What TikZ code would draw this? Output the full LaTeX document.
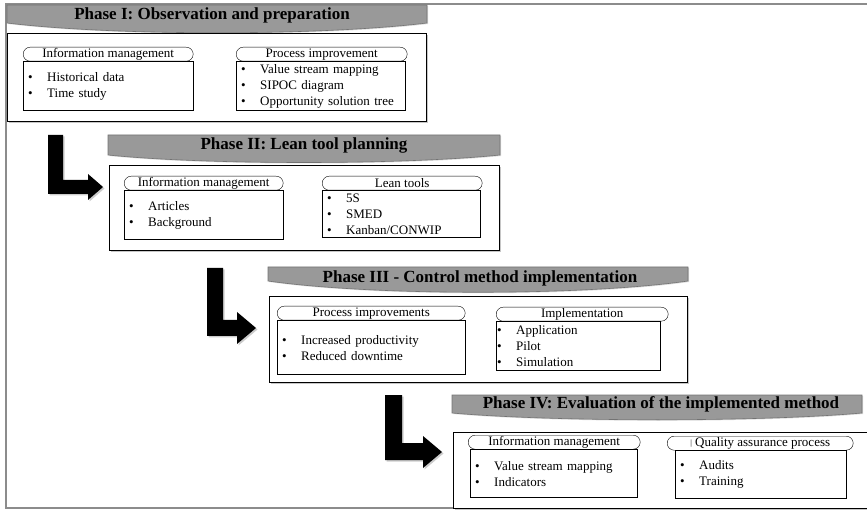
\documentclass[tikz,border=0pt]{standalone}
\usepackage{fontspec}
\setmainfont{Liberation Serif}
\usetikzlibrary{shadows}

\tikzset{
  pill/.style={draw, rounded corners=7pt, minimum height=14pt, inner sep=0pt, anchor=north west, font=\fontsize{13}{15}\selectfont},
  listbox/.style={draw, anchor=north west, inner xsep=5pt, inner ysep=0pt, align=left, font=\fontsize{13}{16}\selectfont},
  phasebox/.style={draw, line width=0.9pt, anchor=north west, inner sep=0pt, fill=white, drop shadow={shadow xshift=1.2pt, shadow yshift=-1.2pt, opacity=0.45}},
  banner/.style={fill=black!40, draw=black!55, line width=0.6pt, drop shadow={shadow xshift=1pt, shadow yshift=-1pt, opacity=0.3}},
  title/.style={font=\fontsize{17}{20}\selectfont\bfseries},
  bigarrow/.style={fill=black, drop shadow={shadow xshift=1.5pt, shadow yshift=-1.5pt, opacity=0.4}}
}
\newcommand{\itm}[1]{\makebox[19pt][l]{\textbullet}#1}

\begin{document}
\begin{tikzpicture}[x=1pt,y=-1pt]
\useasboundingbox (0,0) rectangle (867,510);
\draw[black!45, line width=1.5pt] (867,4) -- (6,4) -- (6,508) -- (867,508);

% Phase I
\draw[banner] (7,5) -- (427,5) -- (427,23) .. controls (320,36) and (114,36) .. (7,23) -- cycle;
\node[title] (t1) at (212,15) {Phase I: Observation and preparation};
\node[phasebox, minimum width=419pt, minimum height=88pt] (ph1) at (7,33) {};
\node[pill, minimum width=170pt] (im1) at (23,47) {Information management};
\node[listbox, text width=160pt, minimum height=49pt] (im1list) at (im1.south west) {\itm{Historical data}\\\itm{Time study}};
\node[pill, minimum width=171pt] (pi1) at (236,47) {Process improvement};
\node[listbox, text width=159pt, minimum height=49pt] (pi1list) at (pi1.south west) {\itm{Value stream mapping}\\\itm{SIPOC diagram}\\\itm{Opportunity solution tree}};

\fill[bigarrow] (48,135) -- (63,135) -- (63,180) -- (88,180) -- (88,174) -- (103,187) -- (88,200) -- (88,194) -- (48,194) -- cycle;

% Phase II
\draw[banner] (108,135) -- (500,135) -- (500,155) .. controls (402,165) and (206,165) .. (108,155) -- cycle;
\node[title] (t2) at (304,145) {Phase II: Lean tool planning};
\node[phasebox, minimum width=390pt, minimum height=85pt] (ph2) at (109,165) {};
\node[pill, minimum width=159pt] (im2) at (124,176) {Information management};
\node[listbox, text width=149pt, minimum height=49pt] (im2list) at (im2.south west) {\itm{Articles}\\\itm{Background}};
\node[pill, minimum width=160pt] (lt2) at (322,176) {Lean tools};
\node[listbox, text width=148pt, minimum height=47pt] (lt2list) at (lt2.south west) {\itm{5S}\\\itm{SMED}\\\itm{Kanban/CONWIP}};

\fill[bigarrow] (207,268) -- (223,268) -- (223,320) -- (237,320) -- (237,312) -- (256,328) -- (237,344) -- (237,336) -- (207,336) -- cycle;

% Phase III
\draw[banner] (268,267) -- (688,267) -- (688,281) .. controls (583,296) and (373,296) .. (268,281) -- cycle;
\node[title] (t3) at (480,278) {Phase III - Control method implementation};
\node[phasebox, minimum width=418pt, minimum height=86pt] (ph3) at (269,296) {};
\node[pill, minimum width=188pt] (pi3) at (277,306) {Process improvements};
\node[listbox, text width=178pt, minimum height=54pt] (pi3list) at (pi3.south west) {\itm{Increased productivity}\\\itm{Reduced downtime}};
\node[pill, minimum width=172pt] (ip3) at (496,307) {Implementation};
\node[listbox, inner xsep=1pt, text width=162pt, minimum height=49pt] (ip3list) at (ip3.south west) {\itm{Application}\\\itm{Pilot}\\\itm{Simulation}};

\fill[bigarrow] (385,395) -- (402,395) -- (402,443) -- (423,443) -- (423,436) -- (442,452) -- (423,468) -- (423,460) -- (385,460) -- cycle;

% Phase IV
\draw[banner] (452,395) -- (862,395) -- (862,413) .. controls (760,422) and (555,422) .. (452,413) -- cycle;
\node[title] (t4) at (661,404) {Phase IV: Evaluation of the implemented method};
\node[phasebox, minimum width=430pt, minimum height=76pt] (ph4) at (453,432) {};
\node[pill, minimum width=172pt] (im4) at (468,435) {Information management};
\node[listbox, text width=157pt, minimum height=48pt] (im4list) at ([xshift=2pt]im4.south west) {\itm{Value stream mapping}\\\itm{Indicators}};
\node[pill, minimum width=186pt] (qa4) at (667,436) {{\fontsize{8}{8}\selectfont\raisebox{1pt}{|}} Quality assurance process};
\node[listbox, text width=161pt, minimum height=48pt] (qa4list) at ([xshift=8pt]qa4.south west) {\itm{Audits}\\\itm{Training}};
\end{tikzpicture}
\end{document}
